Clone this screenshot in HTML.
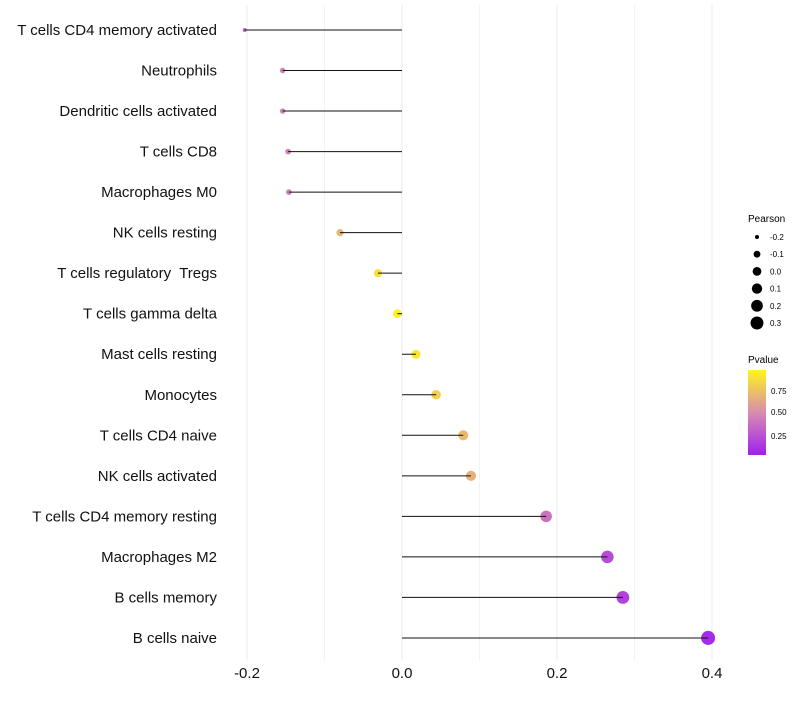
<!DOCTYPE html>
<html><head><meta charset="utf-8"><style>
body{margin:0;background:#fff;font-family:"Liberation Sans",sans-serif}
text{white-space:pre}
</style></head><body>
<svg id="chart" width="800" height="700" xmlns="http://www.w3.org/2000/svg">
<defs><linearGradient id="pg" x1="0" y1="1" x2="0" y2="0">
<stop offset="0" stop-color="#a020f0"/><stop offset="0.5" stop-color="#d88cb0"/><stop offset="1" stop-color="#fff51a"/></linearGradient></defs>
<g id="grid"></g>
<g id="dots"></g>
<g id="marks"></g>
<g id="ylab"></g>
<g id="xlab"></g>
<g id="lp">
<text x="748" y="222" font-size="10">Pearson</text>
</g>
<g>
<text x="748" y="363" font-size="10">Pvalue</text>
<rect x="748" y="370" width="18" height="85" fill="url(#pg)"/>
<text x="771" y="394" font-size="8">0.75</text>
<text x="771" y="415" font-size="8">0.50</text>
<text x="771" y="439" font-size="8">0.25</text>
</g>
</svg>
<script>
const categories=["T cells CD4 memory activated","Neutrophils","Dendritic cells activated","T cells CD8","Macrophages M0","NK cells resting","T cells regulatory  Tregs","T cells gamma delta","Mast cells resting","Monocytes","T cells CD4 naive","NK cells activated","T cells CD4 memory resting","Macrophages M2","B cells memory","B cells naive"];
const pearson=[-0.203,-0.154,-0.154,-0.147,-0.146,-0.080,-0.031,-0.006,0.018,0.044,0.079,0.089,0.186,0.265,0.285,0.395];
const pvalues=[0.30,0.45,0.45,0.45,0.45,0.70,0.90,0.97,0.93,0.82,0.72,0.68,0.38,0.20,0.15,0.05];
const xTicks=[-0.2,0,0.2,0.4];
const legendValues=[-0.2,-0.1,0.0,0.1,0.2,0.3];
const NS="http://www.w3.org/2000/svg";
const X=v=>402+v*775;
const Y=i=>30+i*40.53;
const R=v=>Math.sqrt(Math.max(19.2+76*v,1.5));
function col(p){const s=[[0,[160,32,240]],[0.5,[216,140,176]],[1,[255,245,26]]];let a=s[0],b=s[1];if(p>0.5){a=s[1];b=s[2];}const t=(p-a[0])/(b[0]-a[0]);return "rgb("+a[1].map((c,k)=>Math.round(c+(b[1][k]-c)*t)).join(",")+")";}
function el(t,at,par){const e=document.createElementNS(NS,t);for(const k in at)e.setAttribute(k,at[k]);document.getElementById(par).appendChild(e);return e;}
for(let g=-0.2;g<=0.4001;g+=0.1){
 const l=el("line",{x1:X(g),x2:X(g),y1:5,y2:660,stroke:"#ebebeb","stroke-width":Math.abs(Math.round(g*10))%2===0?1:0.6},"grid");
 
 
}
categories.forEach((c,i)=>{
 const d=el("circle",{cx:X(pearson[i]),cy:Y(i),r:R(pearson[i]),fill:col(pvalues[i])},"dots");
 
 
 const ln=el("line",{x1:X(0),x2:X(pearson[i]),y1:Y(i),y2:Y(i),stroke:"#111","stroke-width":1},"marks");
 
 
 const t=el("text",{x:217,y:Y(i)+5,"text-anchor":"end","font-size":15,fill:"#111"},"ylab");
 t.textContent=c;
 
 
});
xTicks.forEach(v=>{
 const t=el("text",{x:X(v),y:678,"text-anchor":"middle","font-size":15,fill:"#111"},"xlab");
 t.textContent=v===0?"0.0":v.toFixed(1);
 
 
});
legendValues.forEach((v,i)=>{
 const y=237+i*17.2;
 const c=el("circle",{cx:757,cy:y,r:R(v),fill:"#000"},"lp");
 
 
 const t=el("text",{x:770,y:y+3,"font-size":8},"lp");
 t.textContent=v.toFixed(1);
 
 
});
</script>
</body></html>
